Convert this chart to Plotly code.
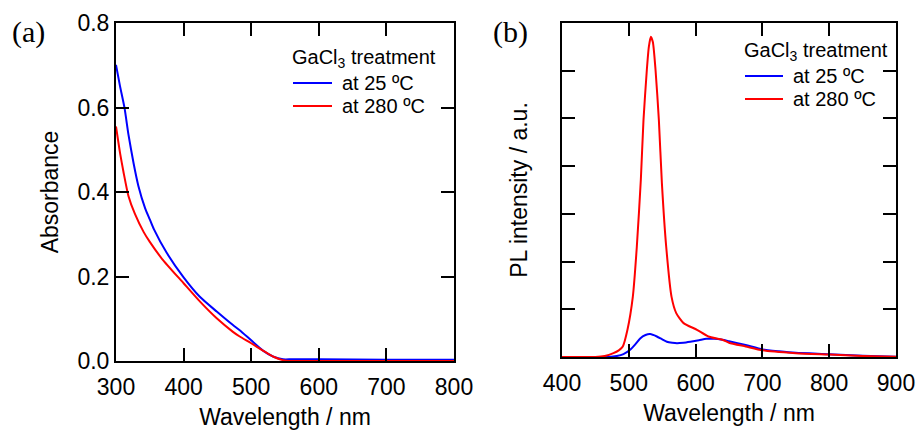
import plotly.graph_objects as go

# ---------------- data ----------------
abs_wl_25 = [300, 306, 312.6, 318.5, 326, 333, 343, 350, 356, 375, 400, 424, 449, 473, 483, 500, 518, 533, 547, 560, 600, 700, 800]
abs_25 = [0.701, 0.650, 0.599, 0.535, 0.468, 0.415, 0.362, 0.335, 0.312, 0.256, 0.198, 0.152, 0.117, 0.085, 0.073, 0.049, 0.024, 0.010, 0.004, 0.004, 0.004, 0.003, 0.003]

abs_wl_280 = [300, 306, 311, 318.5, 328, 341, 350, 368, 400, 424, 449, 473, 483, 500, 518, 533, 547, 560, 600, 700, 800]
abs_280 = [0.555, 0.492, 0.448, 0.390, 0.348, 0.305, 0.282, 0.242, 0.184, 0.141, 0.101, 0.069, 0.058, 0.042, 0.024, 0.010, 0.002, 0.0, 0.0, 0.0, 0.0]

pl_wl_25 = [400, 470, 482, 492, 502, 510, 517, 525, 532, 542, 550, 557, 565, 572, 582, 592, 605, 616, 628, 640, 650, 675, 700, 725, 750, 800, 850, 900]
pl_25 = [0.0, 0.0, 0.02, 0.06, 0.15, 0.27, 0.39, 0.46, 0.48, 0.43, 0.37, 0.32, 0.30, 0.29, 0.30, 0.32, 0.35, 0.38, 0.38, 0.36, 0.33, 0.25, 0.16, 0.12, 0.09, 0.06, 0.025, 0.005]

pl_wl_280 = [400, 450, 464, 477, 485, 491, 498, 506, 512, 518, 522, 527, 530, 533, 536, 540, 545, 549.5, 556, 564, 571, 582, 602, 619, 640, 650, 675, 700, 750, 800, 850, 900]
pl_280 = [0.0, 0.0, 0.02, 0.08, 0.14, 0.22, 0.57, 1.26, 2.31, 3.71, 4.97, 6.02, 6.50, 6.71, 6.60, 6.02, 4.97, 3.65, 2.31, 1.26, 0.92, 0.71, 0.57, 0.43, 0.36, 0.30, 0.22, 0.14, 0.08, 0.05, 0.02, 0.005]

series_names = ["at 25 ºC", "at 280 ºC"]
series_colors = ["#0000FF", "#FF0000"]
legend_title = "GaCl<sub>3</sub> treatment"
abs_xticks = [300, 400, 500, 600, 700, 800]
abs_yticks = [0.0, 0.2, 0.4, 0.6, 0.8]
pl_xticks = [400, 500, 600, 700, 800, 900]
pl_yticks = [1, 2, 3, 4, 5, 6]

W, H = 916, 430
FONT = "Liberation Sans, Arial, sans-serif"
SERIF = "Liberation Serif, Times New Roman, serif"


def px(x):  # window pixel -> paper fraction
    return x / W


def py(y):
    return 1 - y / H


fig = go.Figure()

line_style = dict(width=2, shape="spline", smoothing=0.6)
fig.add_trace(go.Scatter(x=abs_wl_25, y=abs_25, name=series_names[0], mode="lines",
                         line=dict(line_style, color=series_colors[0]), xaxis="x", yaxis="y"))
fig.add_trace(go.Scatter(x=abs_wl_280, y=abs_280, name=series_names[1], mode="lines",
                         line=dict(line_style, color=series_colors[1]), xaxis="x", yaxis="y"))
fig.add_trace(go.Scatter(x=pl_wl_25, y=pl_25, name=series_names[0], mode="lines",
                         line=dict(line_style, color=series_colors[0]), xaxis="x2", yaxis="y2"))
fig.add_trace(go.Scatter(x=pl_wl_280, y=pl_280, name=series_names[1], mode="lines",
                         line=dict(line_style, color=series_colors[1]), xaxis="x2", yaxis="y2"))

axis_common = dict(showline=True, linecolor="black", linewidth=2, mirror="allticks",
                   ticks="inside", ticklen=13, tickwidth=2, tickcolor="black",
                   showgrid=False, zeroline=False, automargin=False,
                   tickfont=dict(family=FONT, size=23, color="black"),
                   title_font=dict(family=FONT, size=23, color="black"))

# ---- hand-drawn legends (title + line samples + labels) ----
annotations = []
shapes = []
legend_specs = [
    dict(tx=290, ty=57, lx0=293, lx1=332, rows=[83, 106], textx=340),
    dict(tx=742, ty=51, lx0=745, lx1=783, rows=[76, 99], textx=791),
]
for spec in legend_specs:
    annotations.append(dict(text=legend_title, x=px(spec["tx"]), y=py(spec["ty"] + 1),
                            xref="paper", yref="paper", xanchor="left", yanchor="middle",
                            showarrow=False, font=dict(family=FONT, size=20, color="black")))
    for name, color, yrow in zip(series_names, series_colors, spec["rows"]):
        shapes.append(dict(type="line", xref="paper", yref="paper",
                           x0=px(spec["lx0"]), x1=px(spec["lx1"]), y0=py(yrow), y1=py(yrow),
                           line=dict(color=color, width=2)))
        annotations.append(dict(text=name, x=px(spec["textx"]), y=py(yrow),
                                xref="paper", yref="paper", xanchor="left", yanchor="middle",
                                showarrow=False, font=dict(family=FONT, size=20, color="black")))

annotations += [
    dict(text="(a)", x=px(10), y=py(32), xref="paper", yref="paper",
         xanchor="left", yanchor="middle", showarrow=False,
         font=dict(family=SERIF, size=30, color="black")),
    dict(text="(b)", x=px(491), y=py(32), xref="paper", yref="paper",
         xanchor="left", yanchor="middle", showarrow=False,
         font=dict(family=SERIF, size=30, color="black")),
]

fig.update_layout(
    template="none",
    width=W, height=H, autosize=False,
    margin=dict(l=0, r=0, t=0, b=0, autoexpand=False),
    paper_bgcolor="white", plot_bgcolor="white",
    font=dict(family=FONT, color="black"),
    showlegend=False,
    xaxis=dict(axis_common, domain=[px(116), px(454)], anchor="y", range=[300, 800],
               tickvals=abs_xticks, ticklabelstandoff=4,
               title=dict(text="Wavelength / nm", standoff=10)),
    yaxis=dict(axis_common, domain=[py(361), py(23)], anchor="x", range=[0, 0.8],
               tickvals=abs_yticks, tickformat=".1f", ticklabelstandoff=0,
               title=dict(text="Absorbance", standoff=12)),
    xaxis2=dict(axis_common, domain=[px(562), px(896)], anchor="y2", range=[400, 900],
                tickvals=pl_xticks, ticklabelstandoff=4,
                title=dict(text="Wavelength / nm", standoff=10)),
    yaxis2=dict(axis_common, domain=[py(357), py(23)], anchor="x2", range=[0, 7],
                tickvals=pl_yticks, showticklabels=False,
                title=dict(text="PL intensity / a.u.", standoff=26)),
    shapes=shapes,
    annotations=annotations,
)

# remove the browser's default 8px body margin so the figure fills the window exactly
fig.write_html("out.html",
               config={"displayModeBar": False},
               post_script="document.body.style.margin='0';document.body.style.overflow='hidden';")
